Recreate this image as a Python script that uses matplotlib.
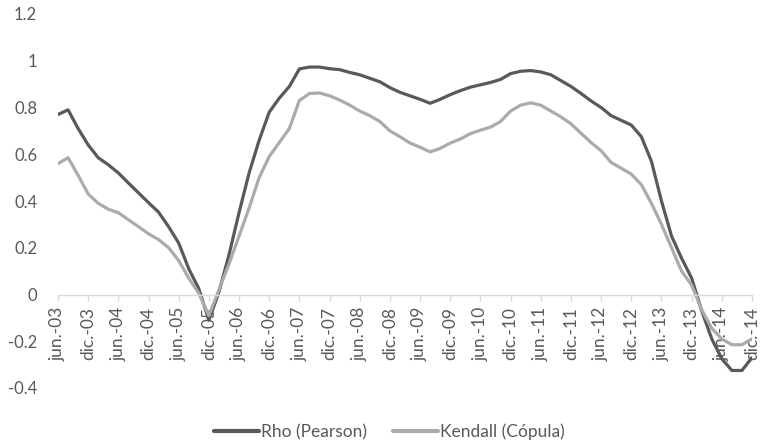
import matplotlib
matplotlib.use("Agg")
import matplotlib.pyplot as plt

plt.rcParams['font.family'] = ['Lato', 'DejaVu Sans']

# Bimonthly observations, June 2003 to December 2014 (months since jun-03)
months = list(range(0, 139, 2))

rho_pearson = [
    0.77, 0.79, 0.71, 0.64, 0.585, 0.555, 0.52, 0.477, 0.435, 0.393,
    0.352, 0.29, 0.22, 0.11, 0.025, -0.11, 0.01, 0.17, 0.35, 0.52,
    0.66, 0.78, 0.84, 0.89, 0.965, 0.973, 0.973, 0.966, 0.962, 0.95,
    0.94, 0.925, 0.91, 0.885, 0.865, 0.85, 0.835, 0.818, 0.835, 0.855,
    0.872, 0.887, 0.897, 0.907, 0.92, 0.945, 0.955, 0.958, 0.952, 0.94,
    0.915, 0.89, 0.86, 0.828, 0.80, 0.765, 0.745, 0.725, 0.675, 0.57,
    0.40, 0.25, 0.155, 0.07, -0.07, -0.19, -0.275, -0.325, -0.325, -0.27,
]

kendall_copula = [
    0.56, 0.585, 0.51, 0.43, 0.39, 0.365, 0.35, 0.32, 0.29, 0.26,
    0.235, 0.20, 0.145, 0.07, 0.005, -0.09, 0.02, 0.13, 0.25, 0.37,
    0.50, 0.59, 0.65, 0.71, 0.83, 0.86, 0.862, 0.85, 0.832, 0.81,
    0.785, 0.765, 0.74, 0.70, 0.675, 0.648, 0.63, 0.61, 0.625, 0.648,
    0.665, 0.688, 0.703, 0.716, 0.74, 0.785, 0.81, 0.82, 0.81, 0.785,
    0.76, 0.73, 0.69, 0.65, 0.615, 0.565, 0.54, 0.515, 0.47, 0.39,
    0.30, 0.20, 0.10, 0.04, -0.065, -0.145, -0.19, -0.215, -0.215, -0.19,
]

tick_months = list(range(0, 139, 6))
tick_labels = [f"{'jun.' if i % 2 == 0 else 'dic.'}-{3 + i // 2:02d}"
               for i in range(len(tick_months))]
y_ticks = [-0.4, -0.2, 0, 0.2, 0.4, 0.6, 0.8, 1, 1.2]
y_tick_labels = ['-0.4', '-0.2', '0', '0.2', '0.4', '0.6', '0.8', '1', '1.2']

W, H = 761, 445
fig = plt.figure(figsize=(W / 100, H / 100), dpi=100)
ax = fig.add_axes([58 / W, (H - 388) / H, (752 - 58) / W, (388 - 14) / H])

text_col = '#595959'
axis_col = '#d9d9d9'

ax.plot(months, rho_pearson, color='#595959', lw=2.3, solid_capstyle='round',
        solid_joinstyle='round', label='Rho (Pearson)')
ax.plot(months, kendall_copula, color='#ababab', lw=2.3, solid_capstyle='round',
        solid_joinstyle='round', label='Kendall (Cópula)')

ax.set_xlim(0, 138)
ax.set_ylim(-0.4, 1.2)

for side in ('top', 'right', 'left'):
    ax.spines[side].set_visible(False)
ax.spines['bottom'].set_position(('data', 0))
ax.spines['bottom'].set_color(axis_col)
ax.spines['bottom'].set_linewidth(1.0)

ax.set_xticks(tick_months)
ax.set_xticklabels(tick_labels, rotation=90, ha='center', va='top')
ax.tick_params(axis='x', length=4, width=1, color=axis_col, pad=5,
               labelsize=12.5, labelcolor=text_col)

ax.set_yticks(y_ticks)
ax.set_yticklabels(y_tick_labels)
ax.tick_params(axis='y', length=0, pad=15, labelsize=12, labelcolor=text_col)

leg = fig.legend(loc='center', bbox_to_anchor=(389 / W, 1 - 432 / H), ncol=2,
                 frameon=False, fontsize=12.5, handlelength=2.6,
                 handletextpad=0.1, columnspacing=1.5, labelcolor=text_col)
for line in leg.get_lines():
    line.set_linewidth(3.0)

fig.savefig('out.png', dpi=100)
